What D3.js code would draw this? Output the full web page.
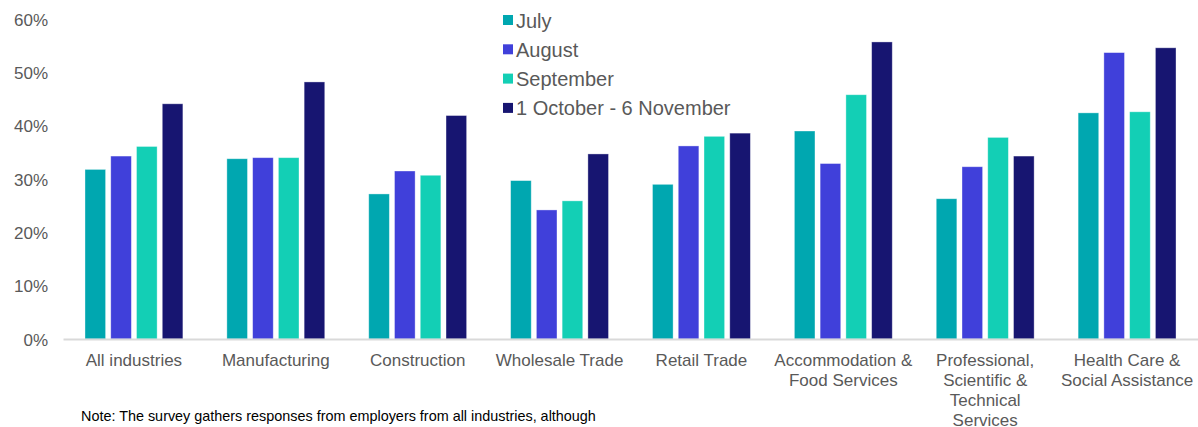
<!DOCTYPE html>
<html>
<head>
<meta charset="utf-8">
<script src="https://cdn.jsdelivr.net/npm/d3@7"></script>
<style>
  body { margin: 0; background: #fff; }
  svg { font-family: "Liberation Sans", Arial, sans-serif; }
</style>
</head>
<body>
<div id="wrapper"></div>
<script>
// categories (line breaks as in the original labels)
const categories = [
  "All industries",
  "Manufacturing",
  "Construction",
  "Wholesale Trade",
  "Retail Trade",
  "Accommodation &\nFood Services",
  "Professional,\nScientific &\nTechnical\nServices",
  "Health Care &\nSocial Assistance"
]
const seriesNames = ["July", "August", "September", "1 October - 6 November"]

// percent values per series
const july      = [31.8, 33.8, 27.2, 29.7, 29.0, 39.0, 26.3, 42.4]
const august    = [34.3, 34.0, 31.5, 24.2, 36.2, 32.9, 32.3, 53.7]
const september = [36.1, 34.0, 30.7, 25.9, 38.0, 45.8, 37.8, 42.6]
const octNov    = [44.1, 48.2, 41.9, 34.7, 38.6, 55.7, 34.3, 54.6]
const yTicks = [0, 10, 20, 30, 40, 50, 60]

const seriesValues = [july, august, september, octNov]
const colors = ["#00a7b0", "#4040da", "#13cfb5", "#171571"]

const width = 1198
const height = 427
const dimensions = {
  width: width,
  height: height,
  margin: { top: 19, right: 0, bottom: 88, left: 63 }
}
dimensions.boundedWidth = dimensions.width - dimensions.margin.left - dimensions.margin.right
dimensions.boundedHeight = dimensions.height - dimensions.margin.top - dimensions.margin.bottom

const wrapper = d3.select("#wrapper")
  .append("svg")
  .attr("width", dimensions.width)
  .attr("height", dimensions.height)

const bounds = wrapper.append("g")
  .attr("transform", `translate(${dimensions.margin.left}, ${dimensions.margin.top})`)

const x0 = d3.scaleBand()
  .domain(categories)
  .range([0, dimensions.boundedWidth])
  .paddingInner(0.31)
  .paddingOuter(0.155)

const x1 = d3.scaleBand()
  .domain(seriesNames)
  .range([0, x0.bandwidth()])
  .paddingInner(0.2)

const yScale = d3.scaleLinear()
  .domain([0, 60])
  .range([dimensions.boundedHeight, 0])

// bars
const rows = categories.map((c, i) => ({
  cat: c,
  vals: seriesNames.map((s, j) => ({ s: s, j: j, v: seriesValues[j][i] }))
}))

const groups = bounds.append("g")
  .selectAll("g")
  .data(rows)
  .enter()
  .append("g")
  .attr("transform", d => `translate(${x0(d.cat)}, 0)`)

groups.selectAll("rect")
  .data(d => d.vals)
  .enter()
  .append("rect")
  .attr("x", d => x1(d.s))
  .attr("y", d => yScale(d.v))
  .attr("width", x1.bandwidth())
  .attr("height", d => dimensions.boundedHeight - yScale(d.v))
  .attr("fill", d => colors[d.j])
  .attr("stroke", "#ffffff")
  .attr("stroke-opacity", 0.45)
  .attr("stroke-width", 0.8)

// y axis (labels only)
const yAxis = bounds.append("g")
  .call(d3.axisLeft(yScale).tickValues(yTicks).tickFormat(d => d + "%").tickSize(0).tickPadding(15))
yAxis.select(".domain").remove()
yAxis.selectAll("text")
  .attr("fill", "#595959")
  .attr("dy", "0.36em")
  .style("font-size", "17px")
  .style("font-family", "Liberation Sans, Arial, sans-serif")

// x axis
const xAxis = bounds.append("g")
  .attr("transform", `translate(0, ${dimensions.boundedHeight})`)
  .call(d3.axisBottom(x0).tickSize(0).tickFormat(""))
xAxis.select(".domain")
  .attr("stroke", "#d9d9d9")
  .attr("stroke-width", 2)

xAxis.selectAll(".tick")
  .append("text")
  .attr("fill", "#595959")
  .attr("text-anchor", "middle")
  .style("font-size", "17px")
  .selectAll("tspan")
  .data(d => d.split("\n"))
  .enter()
  .append("tspan")
  .attr("x", 0)
  .attr("y", (d, i) => 26.5 + i * 20)
  .text(d => d)

// legend
const legend = wrapper.append("g")
  .attr("transform", "translate(503, 20)")
const legendItems = legend.selectAll("g")
  .data(seriesNames)
  .enter()
  .append("g")
  .attr("transform", (d, i) => `translate(0, ${i * 29.3})`)
legendItems.append("rect")
  .attr("x", 0)
  .attr("y", -5)
  .attr("width", 10)
  .attr("height", 10)
  .attr("fill", (d, i) => colors[i])
legendItems.append("text")
  .attr("x", 13)
  .attr("y", 7.5)
  .attr("fill", "#595959")
  .style("font-size", "20px")
  .text(d => d)

// note
wrapper.append("text")
  .attr("x", 81)
  .attr("y", 420.5)
  .attr("fill", "#000")
  .style("font-size", "14.4px")
  .text("Note: The survey gathers responses from employers from all industries, although")
</script>
</body>
</html>
